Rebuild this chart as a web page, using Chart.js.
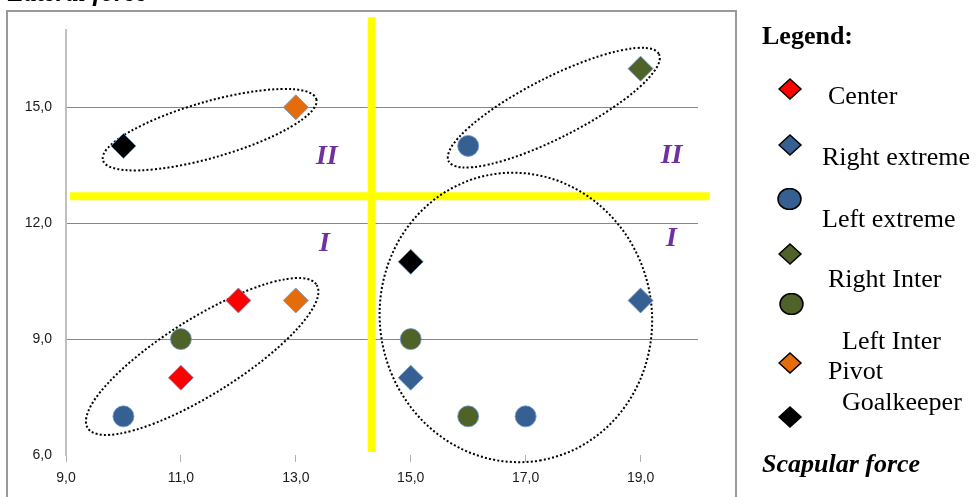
<!DOCTYPE html>
<html>
<head>
<meta charset="utf-8">
<script src="https://cdn.jsdelivr.net/npm/chart.js@4.4.1/dist/chart.umd.min.js"></script>
<style>
  html, body { margin: 0; padding: 0; background: #fff; overflow: hidden; }
  #wrap { position: relative; width: 976px; height: 497px; }
  #chart { position: absolute; left: 0; top: 0; }
  .frame { position: absolute; left: 6px; top: 10px; width: 727px; height: 500px; border: 2px solid #9a9a9a; }
  .serif { position: absolute; font-family: "Liberation Serif", "Times New Roman", serif; font-size: 26px; line-height: 26px; color: #000; white-space: nowrap; }
  .bi { font-weight: bold; font-style: italic; }
  .b { font-weight: bold; }
  .mk { position: absolute; }
</style>
</head>
<body>
<div id="wrap">
  <div class="frame"></div>
  <canvas id="chart" width="976" height="497"></canvas>
  <div class="serif bi" style="left:8px; top:-20px;">Lateral force</div>
  <div id="legend"></div>
</div>
<script>
// Dades del gràfic //
const seriesNames = ["Center", "Right extreme", "Left extreme", "Right Inter", "Left Inter", "Pivot", "Goalkeeper"];
const centerX = [11, 12];
const centerY = [8, 10];
const rightExtX = [15, 19];
const rightExtY = [8, 10];
const leftExtX = [10, 16, 17];
const leftExtY = [7, 14, 7];
const rightInterX = [19];
const rightInterY = [16];
const leftInterX = [11, 15, 16];
const leftInterY = [9, 9, 7];
const pivotX = [13, 13];
const pivotY = [15, 10];
const keeperX = [10, 15];
const keeperY = [14, 11];

const xTicks = [9, 11, 13, 15, 17, 19];
const yTicks = [6, 9, 12, 15];

const colors = ["#ff0000", "#376092", "#376092", "#4f6228", "#4f6228", "#e46c0a", "#000000"];
const shapes = ["rectRot", "rectRot", "circle", "rectRot", "circle", "rectRot", "rectRot"];
const xs = [centerX, rightExtX, leftExtX, rightInterX, leftInterX, pivotX, keeperX];
const ys = [centerY, rightExtY, leftExtY, rightInterY, leftInterY, pivotY, keeperY];

// Dekoration: gula linjer, ellipser och romerska siffror //
const yellowLines = [
  { x1: 14.32, y1: 17.33, x2: 14.32, y2: 6.08 },
  { x1: 9.07, y1: 12.7, x2: 20.2, y2: 12.7 }
];
const ellipses = [
  { cx: 11.5, cy: 14.42, a: 111, b: 28, rot: -16 },
  { cx: 17.49, cy: 14.99, a: 118, b: 30, rot: -27 },
  { cx: 11.37, cy: 8.55, a: 135, b: 38, rot: -32 },
  { cx: 16.83, cy: 9.56, a: 145, b: 136, rot: 80 }
];
const romans = [
  { t: "II", x: 13.54, y: 13.76 },
  { t: "II", x: 19.54, y: 13.79 },
  { t: "I", x: 13.5, y: 11.52 },
  { t: "I", x: 19.54, y: 11.65 }
];

const fmt = (v) => v.toFixed(1).replace(".", ",");

const decorPlugin = {
  id: "decor",
  beforeDatasetsDraw(chart) {
    const ctx = chart.ctx;
    const sx = chart.scales.x, sy = chart.scales.y;
    ctx.save();
    ctx.strokeStyle = "#ffff00";
    ctx.lineWidth = 8;
    yellowLines.forEach((l) => {
      ctx.beginPath();
      ctx.moveTo(sx.getPixelForValue(l.x1), sy.getPixelForValue(l.y1));
      ctx.lineTo(sx.getPixelForValue(l.x2), sy.getPixelForValue(l.y2));
      ctx.stroke();
    });
    ctx.strokeStyle = "#000";
    ctx.lineWidth = 2;
    ctx.setLineDash([2, 2.2]);
    ellipses.forEach((e) => {
      ctx.beginPath();
      ctx.ellipse(sx.getPixelForValue(e.cx), sy.getPixelForValue(e.cy), e.a, e.b, e.rot * Math.PI / 180, 0, Math.PI * 2);
      ctx.stroke();
    });
    ctx.setLineDash([]);
    ctx.fillStyle = "#7030a0";
    ctx.font = "italic bold 28px 'Liberation Serif', serif";
    ctx.textAlign = "center";
    ctx.textBaseline = "alphabetic";
    romans.forEach((r) => {
      ctx.fillText(r.t, sx.getPixelForValue(r.x), sy.getPixelForValue(r.y) + 9);
    });
    ctx.restore();
  }
};

const datasets = seriesNames.map((name, i) => ({
  label: name,
  data: xs[i].map((x, j) => ({ x: x, y: ys[i][j] })),
  pointStyle: shapes[i],
  pointRadius: shapes[i] === "circle" ? 10.5 : 12.5,
  backgroundColor: colors[i],
  borderColor: "rgba(110,150,205,0.8)",
  borderWidth: 1
}));

const ctx = document.getElementById("chart").getContext("2d");
new Chart(ctx, {
  type: "scatter",
  data: { datasets: datasets },
  plugins: [decorPlugin],
  options: {
    responsive: false,
    animation: false,
    devicePixelRatio: 1,
    layout: { padding: { top: 30, right: 278, left: 0, bottom: 0 } },
    plugins: { legend: { display: false }, tooltip: { enabled: false } },
    scales: {
      x: {
        min: 9,
        max: 20,
        afterBuildTicks: (axis) => { axis.ticks = xTicks.map((v) => ({ value: v })); },
        afterFit: (axis) => { axis.height = 42; },
        grid: { drawOnChartArea: false, drawTicks: true, tickLength: 7, color: "#b0b0b0" },
        border: { display: false },
        ticks: {
          callback: (v) => fmt(v),
          font: { family: "'Liberation Sans', Arial, sans-serif", size: 14 },
          color: "#1a1a1a",
          padding: 8,
          maxRotation: 0
        }
      },
      y: {
        min: 6,
        max: 17,
        afterBuildTicks: (axis) => { axis.ticks = yTicks.map((v) => ({ value: v })); },
        afterFit: (axis) => { axis.width = 66; },
        grid: {
          drawTicks: false,
          color: (c) => (c.tick && c.tick.value === 6 ? "rgba(0,0,0,0)" : "#868686")
        },
        border: { display: true, color: "#c0c0c0", width: 2 },
        ticks: {
          callback: (v) => fmt(v),
          font: { family: "'Liberation Sans', Arial, sans-serif", size: 14 },
          color: "#1a1a1a",
          padding: 14
        }
      }
    }
  }
});

// Förklaring till höger //
const legendPos = [
  { mx: 790, my: 89, tx: 828, base: 105 },
  { mx: 790, my: 145, tx: 822, base: 166 },
  { mx: 789, my: 199, tx: 822, base: 228 },
  { mx: 790, my: 254, tx: 828, base: 288 },
  { mx: 791, my: 304, tx: 842, base: 350 },
  { mx: 790, my: 363, tx: 828, base: 380 },
  { mx: 790, my: 417, tx: 842, base: 411 }
];
const legend = document.getElementById("legend");
let html = '<div class="serif b" style="left:762px; top:' + (45 - 22) + 'px;">Legend:</div>';
seriesNames.forEach((name, i) => {
  const p = legendPos[i];
  const shape = shapes[i] === "circle"
    ? '<ellipse cx="12.5" cy="11" rx="11.5" ry="10.5" fill="' + colors[i] + '" stroke="#000" stroke-width="1.5"/>'
    : '<polygon points="12,1 23,11 12,21 1,11" fill="' + colors[i] + '" stroke="#000" stroke-width="1.5"/>';
  html += '<svg class="mk" width="25" height="22" style="left:' + (p.mx - 12) + 'px; top:' + (p.my - 11) + 'px;">' + shape + '</svg>';
  html += '<div class="serif" style="left:' + p.tx + 'px; top:' + (p.base - 22) + 'px;">' + name + '</div>';
});
html += '<div class="serif bi" style="left:762px; top:' + (473 - 22) + 'px;">Scapular force</div>';
legend.innerHTML = html;
</script>
</body>
</html>
